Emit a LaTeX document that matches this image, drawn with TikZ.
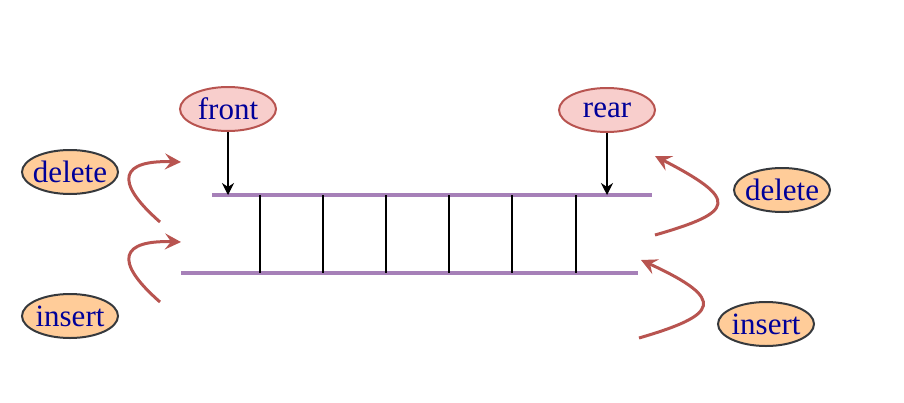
\documentclass[tikz,border=0pt]{standalone}
\usepackage{fontspec}
\setmainfont{Liberation Serif}
\usetikzlibrary{shapes.geometric,arrows.meta}
\definecolor{pinkfill}{HTML}{F8CECC}
\definecolor{pinkline}{HTML}{B85450}
\definecolor{orangefill}{HTML}{FFCC99}
\definecolor{darkline}{HTML}{36393D}
\definecolor{purpleline}{HTML}{A680B8}
\definecolor{txtblue}{HTML}{000099}
\tikzset{
  oval/.style={ellipse,line width=1pt,minimum width=48pt,minimum height=22pt,inner xsep=-3.5pt,inner ysep=0pt,text=txtblue,font=\fontsize{15.5}{17}\selectfont},
  ptr/.style={oval,draw=pinkline,fill=pinkfill},
  op/.style={oval,draw=darkline,fill=orangefill},
  rail/.style={draw=purpleline,line width=1.6pt},
  cell/.style={draw=black,line width=0.55pt},
  ptrarrow/.style={draw=black,line width=0.55pt,-{Stealth[length=6pt,width=6pt]}},
  flow/.style={draw=pinkline,line width=1.5pt,-{Stealth[length=8pt,width=8pt,inset=3pt]}}
}
\begin{document}
\begin{tikzpicture}[x=0.5pt,y=-0.5pt]
\useasboundingbox (0,0) rectangle (904,402);
% pointer nodes
\node[ptr] (front) at (228,109) {front};
\node[ptr] (rear) at (607,110) {rear};
% operation nodes
\node[op] (dell) at (70,172) {delete};
\node[op] (insl) at (70,316) {insert};
\node[op] (delr) at (782,190) {delete};
\node[op] (insr) at (766,324) {insert};
% rails
\coordinate (t1) at (212,195);
\coordinate (t2) at (652,195);
\coordinate (b1) at (181,273);
\coordinate (b2) at (638,273);
\draw[rail] (t1) -- (t2);
\draw[rail] (b1) -- (b2);
% cells
\foreach \x/\n in {260/a,323/b,386/c,449/d,512/e,576/f}{
  \coordinate (u\n) at (\x,195);
  \coordinate (l\n) at (\x,273);
  \draw[cell] (u\n) -- (l\n);
}
% pointer arrows
\coordinate (fp) at (228,195);
\coordinate (rp) at (607,195);
\draw[ptrarrow] (front) -- (fp);
\draw[ptrarrow] (rear) -- (rp);
% left flow arrows
\coordinate (ld0) at (160,222);
\coordinate (ld1) at (181,162);
\coordinate (li0) at (160,302);
\coordinate (li1) at (181,242);
\draw[flow] (ld0) .. controls (112,180) and (122,160) .. (ld1);
\draw[flow] (li0) .. controls (112,260) and (122,240) .. (li1);
% right flow arrows
\coordinate (rd0) at (655,235);
\coordinate (rd1) at (655,156);
\coordinate (ri0) at (639,338);
\coordinate (ri1) at (641,260);
\draw[flow] (rd0) .. controls (735,212) and (740,200) .. (rd1);
\draw[flow] (ri0) .. controls (718,315) and (728,300) .. (ri1);
\end{tikzpicture}
\end{document}
